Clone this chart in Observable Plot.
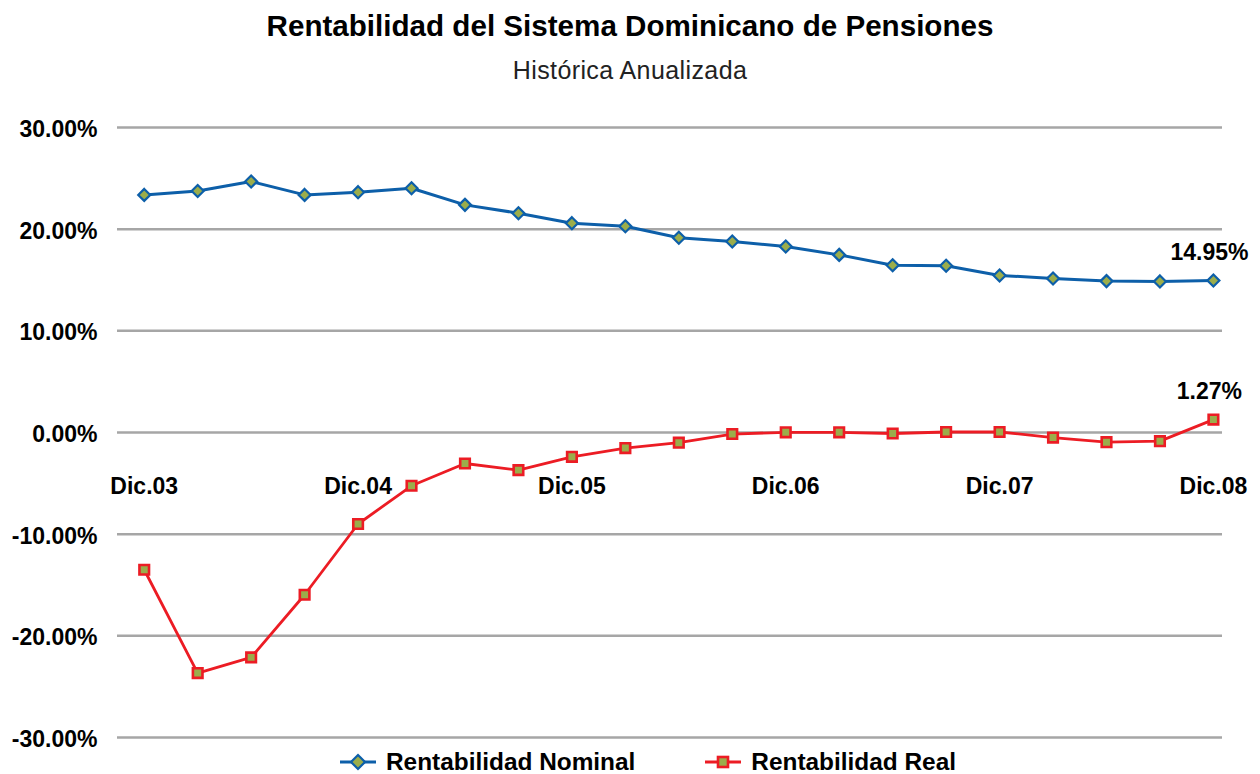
<!DOCTYPE html>
<html>
<head>
<meta charset="utf-8">
<script src="https://cdn.jsdelivr.net/npm/d3@7"></script>
<script src="https://cdn.jsdelivr.net/npm/@observablehq/plot@0.6"></script>
<style>
  html, body { margin: 0; padding: 0; background: #fff; overflow: hidden; width: 1260px; height: 774px; }
  #title { height: 50px; line-height: 52px; text-align: center; font-family: "Liberation Sans", Arial, sans-serif; font-weight: bold; font-size: 29.6px; color: #000; }
  #subtitle { height: 40px; line-height: 40px; text-align: center; font-family: "Liberation Sans", Arial, sans-serif; font-size: 25px; letter-spacing: 0.4px; color: #222; }
  #legend { height: 34px; margin-top: -10px; display: flex; align-items: center; padding-left: 340px; font-family: "Liberation Sans", Arial, sans-serif; font-weight: bold; font-size: 24.4px; color: #000; }
  .item { display: flex; align-items: center; }
  .item svg { margin-right: 10px; }
</style>
</head>
<body>
<div id="title">Rentabilidad del Sistema Dominicano de Pensiones</div>
<div id="subtitle">Histórica Anualizada</div>
<div id="chart"></div>
<div id="legend"></div>
<script>
const periods = ["Dic.03","Mar.04","Jun.04","Sep.04","Dic.04","Mar.05","Jun.05","Sep.05","Dic.05","Mar.06","Jun.06","Sep.06","Dic.06","Mar.07","Jun.07","Sep.07","Dic.07","Mar.08","Jun.08","Sep.08","Dic.08"];
const nominal = [23.37, 23.76, 24.69, 23.37, 23.64, 24.03, 22.39, 21.57, 20.59, 20.29, 19.16, 18.79, 18.30, 17.47, 16.45, 16.40, 15.45, 15.15, 14.89, 14.86, 14.95];
const real = [-13.5, -23.66, -22.12, -15.96, -9.0, -5.24, -3.05, -3.70, -2.39, -1.53, -1.0, -0.15, 0.02, 0.02, -0.1, 0.05, 0.05, -0.5, -0.95, -0.85, 1.27];
const tickLabels = ["Dic.03","Dic.04","Dic.05","Dic.06","Dic.07","Dic.08"];
const yTicks = [-30, -20, -10, 0, 10, 20, 30];
const seriesNames = ["Rentabilidad Nominal", "Rentabilidad Real"];

const blue = "#0d5fa9", red = "#ec1c24", olive = "#9bad4b", grid = "#a6a6a6";

const rows = periods.map((p, i) => ({i, period: p, nominal: nominal[i], real: real[i]}));
const xLab = tickLabels.map(t => ({i: periods.indexOf(t), text: t}));
const last = rows[rows.length - 1];
const endLabels = [
  {i: last.i, v: last.nominal, text: last.nominal.toFixed(2) + "%"},
  {i: last.i, v: last.real, text: last.real.toFixed(2) + "%"}
];

const chart = Plot.plot({
  width: 1260,
  height: 665,
  marginLeft: 117,
  marginRight: 38,
  marginTop: 37,
  marginBottom: 18,
  style: {fontFamily: "'Liberation Sans', Arial, sans-serif", fontSize: "23px", fontWeight: "bold", color: "#000", background: "#fff", overflow: "visible"},
  x: {domain: [-0.5, 20.17], axis: null},
  y: {domain: [-30, 30], axis: null},
  marks: [
    Plot.ruleY(yTicks, {stroke: grid, strokeWidth: 2.5}),
    Plot.axisY({ticks: yTicks, tickFormat: d => d.toFixed(2) + "%", tickSize: 0, tickPadding: 20, fontSize: 23, fontWeight: "bold", dy: 2}),
    Plot.text(xLab, {x: "i", y: () => 0, text: "text", dy: 54, fontSize: 23, fontWeight: "bold", fill: "#000"}),
    Plot.line(rows, {x: "i", y: "nominal", stroke: blue, strokeWidth: 3}),
    Plot.line(rows, {x: "i", y: "real", stroke: red, strokeWidth: 2.8}),
    Plot.dot(rows, {x: "i", y: "nominal", symbol: "diamond2", r: 5.4, fill: olive, stroke: blue, strokeWidth: 2.2}),
    Plot.dot(rows, {x: "i", y: "real", symbol: "square", r: 5.4, fill: olive, stroke: red, strokeWidth: 2.6}),
    Plot.text(endLabels, {x: "i", y: "v", text: "text", dy: -28, dx: -4, fontSize: 23, fontWeight: "bold", fill: "#000"})
  ]
});
document.getElementById("chart").appendChild(chart);

const legend = document.getElementById("legend");
const swatches = [
  {name: seriesNames[0], stroke: blue, shape: "diamond"},
  {name: seriesNames[1], stroke: red, shape: "square"}
];
swatches.forEach((s, k) => {
  const item = document.createElement("div");
  item.className = "item";
  if (k > 0) item.style.marginLeft = "70px";
  const sym = s.shape === "diamond"
    ? `<path d="M18,11 L25,18 L18,25 L11,18 Z" fill="${olive}" stroke="${s.stroke}" stroke-width="2.2"/>`
    : `<rect x="13" y="13" width="10" height="10" fill="${olive}" stroke="${s.stroke}" stroke-width="2.6"/>`;
  item.innerHTML = `<svg width="36" height="36"><line x1="0" y1="18" x2="36" y2="18" stroke="${s.stroke}" stroke-width="3"/>${sym}</svg><span>${s.name}</span>`;
  legend.appendChild(item);
});
</script>
</body>
</html>
